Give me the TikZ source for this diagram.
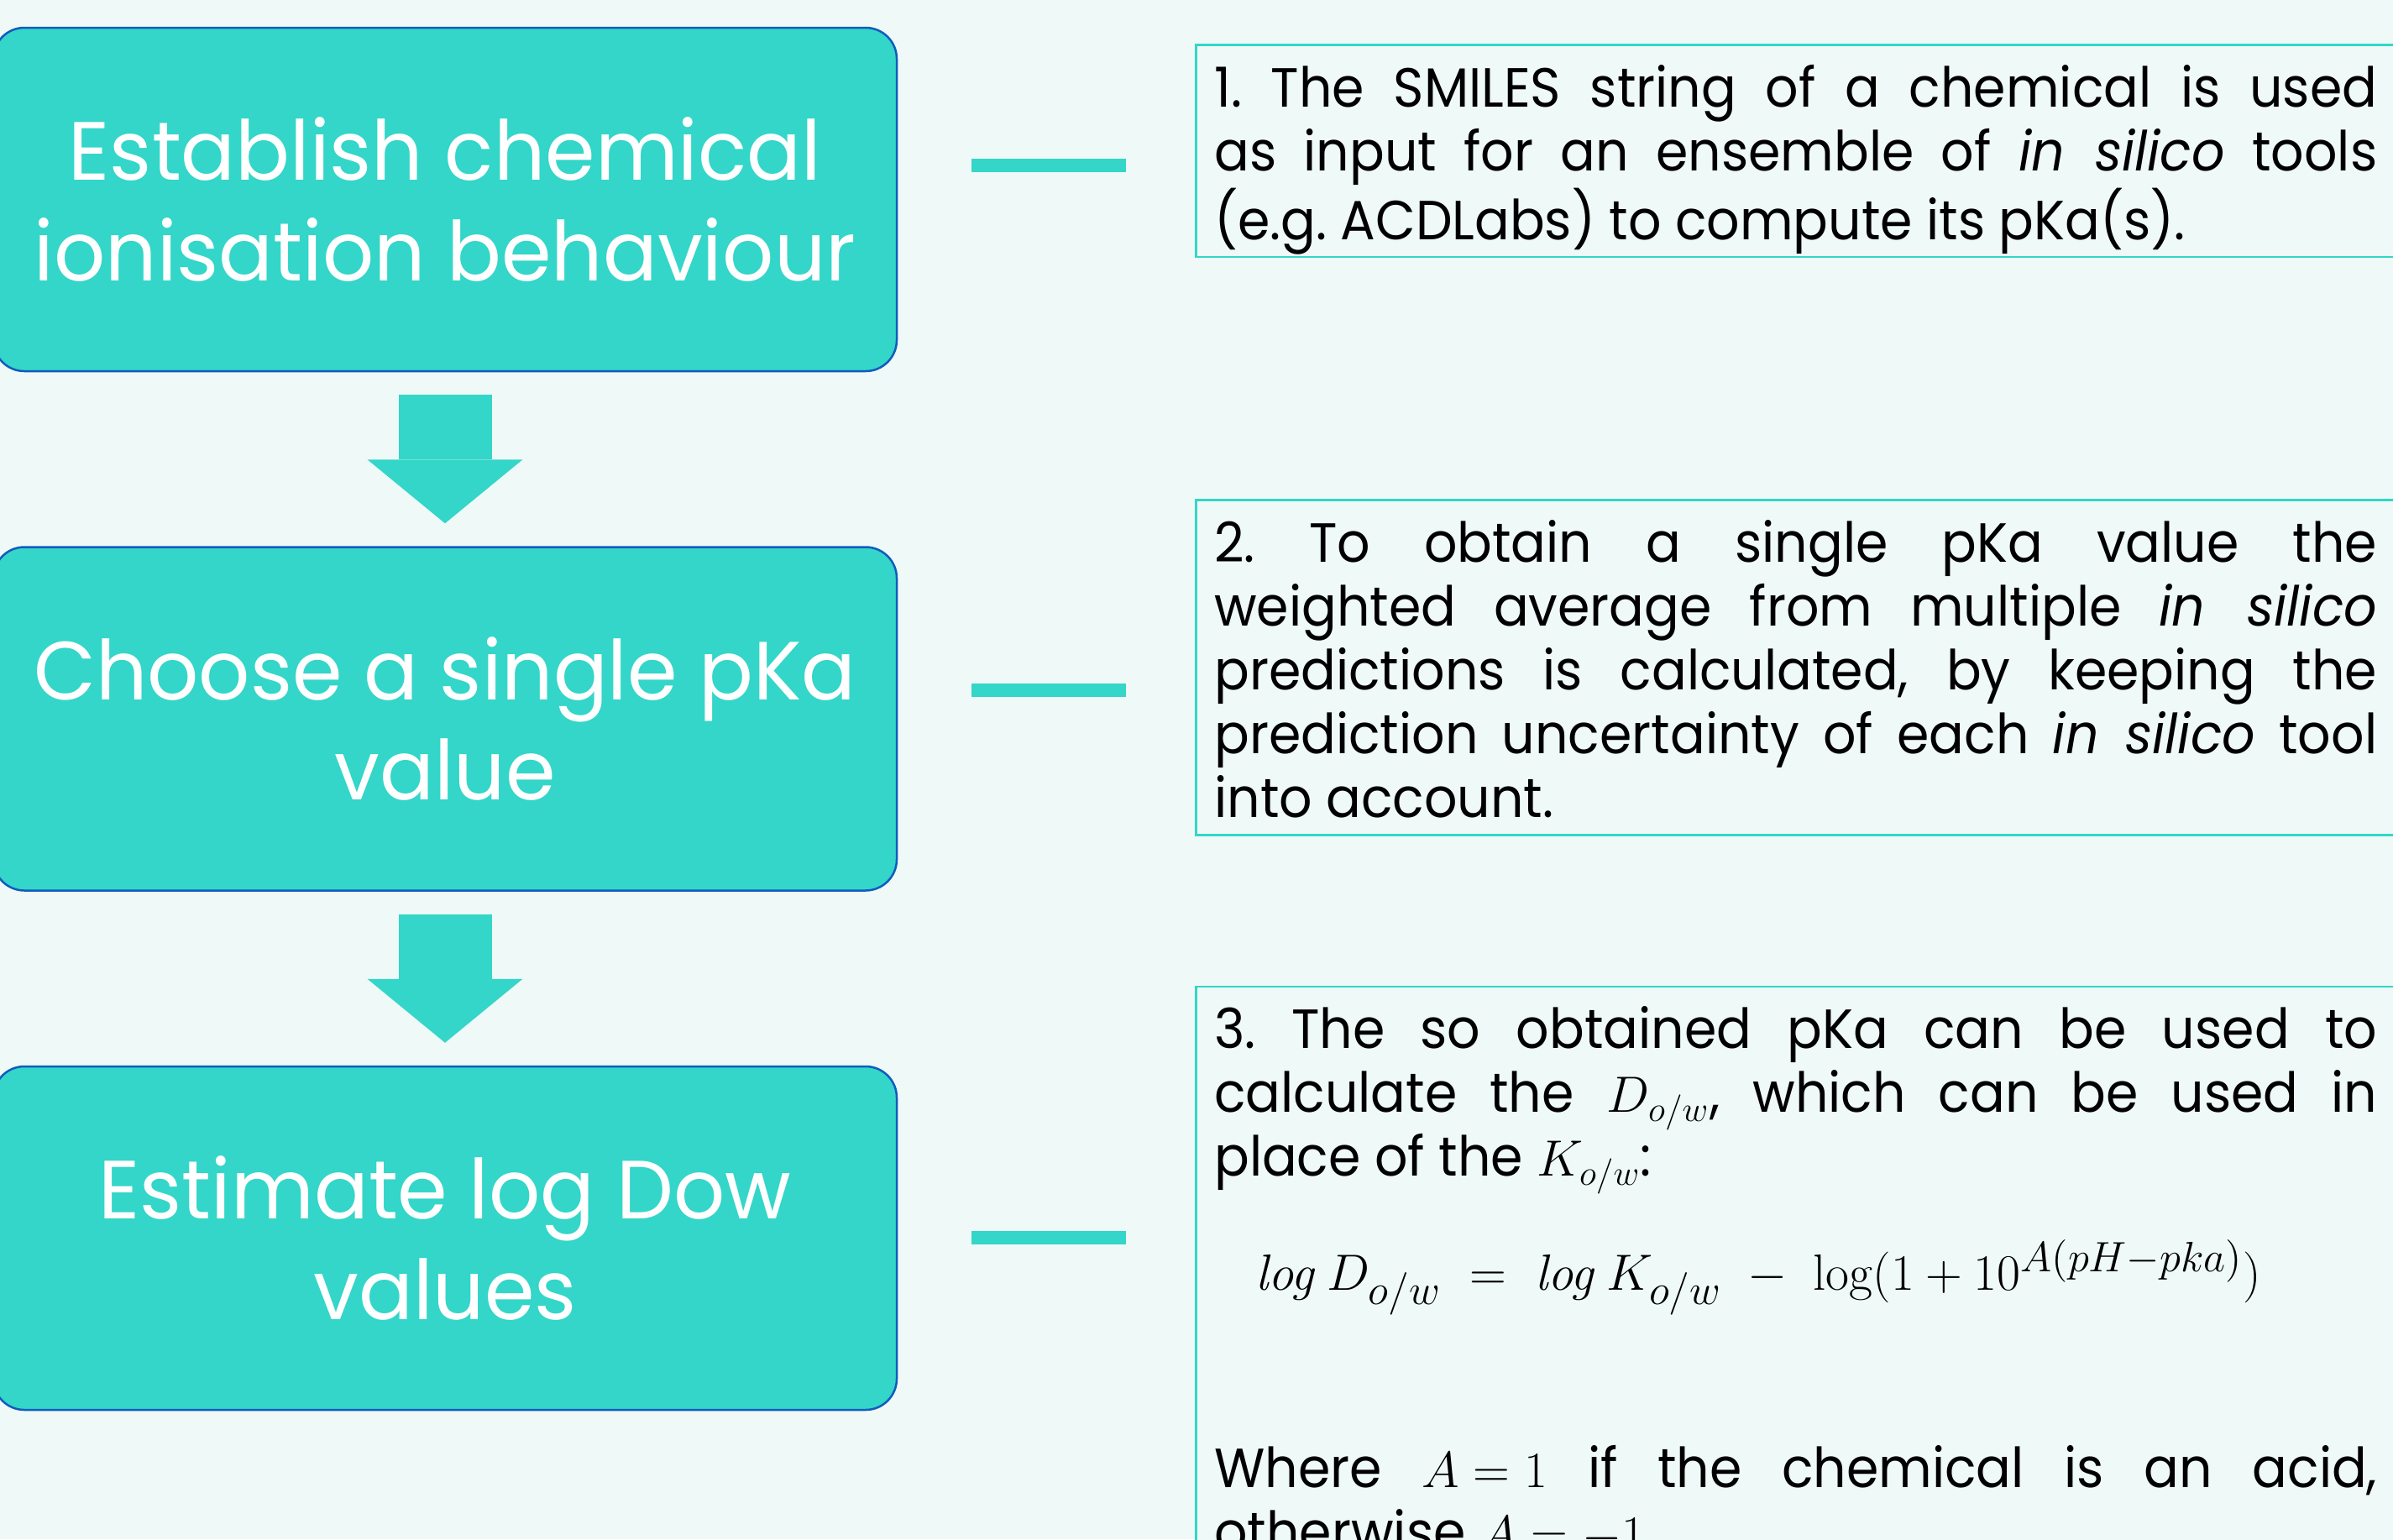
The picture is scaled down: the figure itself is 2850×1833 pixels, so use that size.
\documentclass[tikz,border=0pt]{standalone}
\usepackage[no-math]{fontspec}
\setmainfont[FakeStretch=0.94]{Poppins}
\newfontfamily\stepfont[FakeStretch=0.975]{Poppins}
\usepackage{amsmath}
\usetikzlibrary{arrows.meta, positioning, calc}
\definecolor{aqua}{RGB}{51,214,200}
\definecolor{navy}{RGB}{16,92,190}
\definecolor{paper}{RGB}{239,249,247}
\setlength{\parindent}{0pt}
\frenchspacing
\AtBeginDocument{\thickmuskip=5mu\relax}

\begin{document}
\begin{tikzpicture}[x=0.1mm, y=-0.1mm, node distance=20.7mm,
  b/.style={draw=navy, line width=0.25mm, fill=aqua, rounded corners=3.7mm, minimum width=107.6mm,
    minimum height=40.9mm, align=center, text=white, font=\stepfont\fontsize{28pt}{34.1pt}\selectfont},
  note/.style={draw=aqua, line width=0.25mm, fill=paper, text width=138.5mm, align=justify,
    inner xsep=2.2mm, inner ysep=0.3mm, font=\fontsize{18.7pt}{21.6pt}\selectfont,
    execute at begin node=\rule{0pt}{7.1mm}, execute at end node=\rule[-1.8mm]{0pt}{0pt}},
  flow/.style={aqua, line width=11.1mm, -{Triangle[width=18.5mm, length=7.6mm, line width=0pt]},
    shorten <=2.7mm, shorten >=2.7mm},
  tick/.style={aqua, line width=1.6mm, shorten <=8.8mm, shorten >=8.2mm}]
\clip (0,0) rectangle (2850,1833);
\fill[paper] (0,0) rectangle (2850,1833);

% left column
\node[b] (est) at (530,237.5) {Establish chemical\\ionisation behaviour};
\node[b, below=of est] (cho) {Choose a single pKa\\value};
\node[b, below=of cho] (dow) {Estimate log Dow\\values};
\draw[flow] (est) -- (cho);
\draw[flow] (cho) -- (dow);

% right column
\node[note, anchor=north west] (info1) at (1423,52) {1. The SMILES string of a chemical is used\linebreak
  as input for an ensemble of \textit{in silico} tools\linebreak (e.g. ACDLabs) to compute its pKa(s).};
\node[note, below=28.7mm of info1] (info2) {2. To obtain a single pKa value the\linebreak
  weighted average from multiple \textit{in silico}\linebreak predictions is calculated, by keeping the\linebreak
  prediction uncertainty of each \textit{in silico} tool\linebreak into account.};
\node[note, below=17.8mm of info2] (info3) {3. The so obtained pKa can be used to\linebreak
  calculate the $D_{o/w}$, which can be used in\linebreak place of the $K_{o/w}$:\par
  \vspace{5.1mm}\hspace*{4.9mm}\mbox{\fontsize{19pt}{21.6pt}\selectfont
  $\mathit{log}\,D_{o/w}\;=\;\mathit{log}\,K_{o/w}\;-\;\log(1+10^{A(pH-pka)})$}\par
  \vspace{15.2mm}Where $A=1$ if the chemical is an acid,\linebreak otherwise $A=-1$.};

% ticks between the columns
\coordinate (d1) at (0,197);
\coordinate (d2) at (0,822);
\coordinate (d3) at (0,1474);
\draw[tick] (est.east |- d1) -- (info1.west |- d1);
\draw[tick] (cho.east |- d2) -- (info2.west |- d2);
\draw[tick] (dow.east |- d3) -- (info3.west |- d3);
\end{tikzpicture}
\end{document}
